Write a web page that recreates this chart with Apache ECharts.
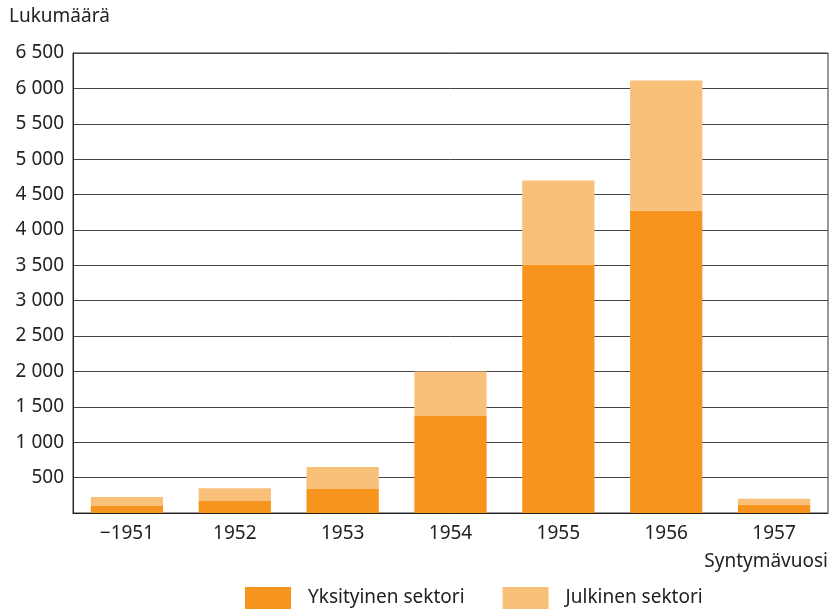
<!DOCTYPE html>
<html><head><meta charset="utf-8">
<script src="https://cdn.jsdelivr.net/npm/echarts@6/dist/echarts.min.js"></script>
<style>html,body{margin:0;padding:0;background:#fff}#c{width:834px;height:609px}</style>
</head><body><div id="c"></div>
<script>
const categories = ['\u22121951','1952','1953','1954','1955','1956','1957'];
const privateSector = [100, 170, 340, 1370, 3510, 4270, 120];
const publicSector = [125, 180, 310, 630, 1190, 1840, 80];
const seriesNames = ['Yksityinen sektori', 'Julkinen sektori'];
const yTitle = 'Lukumäärä';
const xTitle = 'Syntymävuosi';

const font = 'Noto Sans';
const txt = '#222';
const fs = 19;
const chart = echarts.init(document.getElementById('c'));
chart.setOption({
  animation: false,
  textStyle: {fontFamily: font},
  grid: {left: 73, right: 6, top: 53, bottom: 96, show: true, borderColor: '#333', borderWidth: 1},
  legend: {
    left: 240, top: 582, itemWidth: 46, itemHeight: 22, itemGap: 38,
    textStyle: {fontSize: fs, color: txt, fontFamily: font, padding: [0,0,0,12]},
    data: seriesNames, icon: 'rect'
  },
  graphic: [
    {type: 'text', left: 9, top: 7, style: {text: yTitle, fontSize: fs, fill: txt, fontFamily: font}},
    {type: 'text', right: 6, top: 552, style: {text: xTitle, fontSize: fs, fill: txt, fontFamily: font}}
  ],
  xAxis: {
    type: 'category', data: categories,
    axisLine: {lineStyle: {color: '#222', width: 1}},
    axisTick: {show: false},
    axisLabel: {fontSize: fs, color: txt, margin: 11}
  },
  yAxis: {
    type: 'value', min: 0, max: 6500, interval: 500,
    axisLine: {show: true, lineStyle: {color: '#222'}},
    axisTick: {show: false},
    splitLine: {lineStyle: {color: '#444', width: 1}},
    axisLabel: {fontSize: fs, color: txt, margin: 9,
      formatter: v => v === 0 ? '' : String(v).replace(/\B(?=(\d{3})+(?!\d))/g, ' ')}
  },
  series: [
    {name: seriesNames[0], type: 'bar', stack: 'a', data: privateSector, barWidth: '67%',
     itemStyle: {color: '#F7941E'}},
    {name: seriesNames[1], type: 'bar', stack: 'a', data: publicSector, barWidth: '67%',
     itemStyle: {color: '#F9C07A'}}
  ]
});
</script></body></html>
